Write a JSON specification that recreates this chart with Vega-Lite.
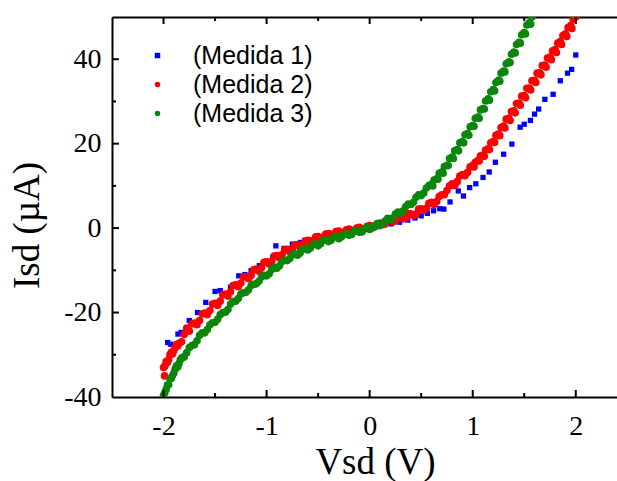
{
"$schema": "https://vega.github.io/schema/vega-lite/v6.json",
"width": 505, "height": 380,
"autosize": {"type": "none"},
"padding": {"left": 112, "top": 17, "right": 0, "bottom": 84},
"background": "white",
"config": {"view": {"stroke": null}, "axis": {"grid": false, "domainColor": "black", "domainWidth": 2, "tickColor": "black", "tickWidth": 2, "labelFont": "Liberation Serif", "labelFontSize": 28, "labelColor": "black", "titleFont": "Liberation Serif", "titleFontSize": 37, "titleFontWeight": "normal", "titleColor": "black"}},
"resolve": {"axis": {"x": "independent", "y": "independent"}},
"datasets": {
"xmajor": [{"t":-2},{"t":-1},{"t":0},{"t":1},{"t":2}],
"xminor": [{"t":-1.5},{"t":-0.5},{"t":0.5},{"t":1.5}],
"ymajor": [{"t":-20},{"t":0},{"t":20},{"t":40}],
"yminor": [{"t":-30},{"t":-10},{"t":10},{"t":30}],
"pts": [
{"s":1,"v":-1.96,"i":-27.1},{"s":1,"v":-1.93,"i":-27.5},{"s":1,"v":-1.86,"i":-25.1},{"s":1,"v":-1.83,"i":-24.7},{"s":1,"v":-1.75,"i":-21.9},{"s":1,"v":-1.67,"i":-20.0},{"s":1,"v":-1.59,"i":-17.6},{"s":1,"v":-1.5,"i":-15.0},{"s":1,"v":-1.45,"i":-14.8},{"s":1,"v":-1.35,"i":-14.0},{"s":1,"v":-1.27,"i":-11.3},{"s":1,"v":-1.21,"i":-11.0},{"s":1,"v":-1.15,"i":-10.1},{"s":1,"v":-1.07,"i":-8.9},{"s":1,"v":-0.99,"i":-8.0},{"s":1,"v":-0.94,"i":-6.9},{"s":1,"v":-0.91,"i":-4.2},{"s":1,"v":-0.83,"i":-4.8},{"s":1,"v":-0.75,"i":-3.8},{"s":1,"v":-0.67,"i":-3.4},{"s":1,"v":-0.59,"i":-2.8},{"s":1,"v":-0.51,"i":-1.8},{"s":1,"v":-0.43,"i":-1.5},{"s":1,"v":-0.35,"i":-1.2},{"s":1,"v":-0.27,"i":-0.9},{"s":1,"v":-0.19,"i":-0.5},{"s":1,"v":-0.11,"i":-0.3},{"s":1,"v":-0.03,"i":0.1},{"s":1,"v":0.05,"i":0.3},{"s":1,"v":0.13,"i":0.7},{"s":1,"v":0.21,"i":1.0},{"s":1,"v":0.29,"i":1.4},{"s":1,"v":0.37,"i":1.9},{"s":1,"v":0.44,"i":2.4},{"s":1,"v":0.5,"i":2.9},{"s":1,"v":0.56,"i":3.5},{"s":1,"v":0.62,"i":4.1},{"s":1,"v":0.68,"i":4.6},{"s":1,"v":0.72,"i":4.5},{"s":1,"v":0.78,"i":6.2},{"s":1,"v":0.86,"i":8.8},{"s":1,"v":0.91,"i":7.6},{"s":1,"v":0.97,"i":9.6},{"s":1,"v":1.03,"i":10.5},{"s":1,"v":1.1,"i":12.0},{"s":1,"v":1.16,"i":13.3},{"s":1,"v":1.22,"i":15.6},{"s":1,"v":1.3,"i":17.5},{"s":1,"v":1.38,"i":19.9},{"s":1,"v":1.46,"i":23.9},{"s":1,"v":1.5,"i":24.6},{"s":1,"v":1.56,"i":25.5},{"s":1,"v":1.6,"i":27.0},{"s":1,"v":1.64,"i":28.2},{"s":1,"v":1.7,"i":30.5},{"s":1,"v":1.78,"i":31.7},{"s":1,"v":1.85,"i":34.9},{"s":1,"v":1.92,"i":36.7},{"s":1,"v":1.96,"i":37.6},{"s":1,"v":2.0,"i":41.0},
{"s":2,"v":-2.0,"i":-33.0},{"s":2,"v":-1.99,"i":-35.0},{"s":2,"v":-1.9875,"i":-32.7},{"s":2,"v":-1.975,"i":-31.6},{"s":2,"v":-1.9625,"i":-31.8},{"s":2,"v":-1.95,"i":-31.2},{"s":2,"v":-1.9375,"i":-30.0},{"s":2,"v":-1.925,"i":-29.4},{"s":2,"v":-1.9125,"i":-29.8},{"s":2,"v":-1.9,"i":-29.0},{"s":2,"v":-1.8875,"i":-28.3},{"s":2,"v":-1.875,"i":-27.6},{"s":2,"v":-1.8625,"i":-27.9},{"s":2,"v":-1.85,"i":-27.3},{"s":2,"v":-1.825,"i":-26.9},{"s":2,"v":-1.8,"i":-25.2},{"s":2,"v":-1.775,"i":-23.7},{"s":2,"v":-1.75,"i":-24.4},{"s":2,"v":-1.725,"i":-22.7},{"s":2,"v":-1.7,"i":-22.5},{"s":2,"v":-1.675,"i":-22.9},{"s":2,"v":-1.65,"i":-21.9},{"s":2,"v":-1.625,"i":-20.3},{"s":2,"v":-1.6,"i":-20.1},{"s":2,"v":-1.575,"i":-20.5},{"s":2,"v":-1.55,"i":-19.5},{"s":2,"v":-1.525,"i":-18.0},{"s":2,"v":-1.5,"i":-17.8},{"s":2,"v":-1.475,"i":-18.3},{"s":2,"v":-1.45,"i":-17.3},{"s":2,"v":-1.425,"i":-15.8},{"s":2,"v":-1.4,"i":-15.6},{"s":2,"v":-1.375,"i":-16.1},{"s":2,"v":-1.35,"i":-15.1},{"s":2,"v":-1.325,"i":-13.6},{"s":2,"v":-1.3,"i":-13.4},{"s":2,"v":-1.275,"i":-13.9},{"s":2,"v":-1.25,"i":-13.0},{"s":2,"v":-1.225,"i":-11.6},{"s":2,"v":-1.2,"i":-11.5},{"s":2,"v":-1.175,"i":-12.0},{"s":2,"v":-1.15,"i":-11.2},{"s":2,"v":-1.125,"i":-9.9},{"s":2,"v":-1.1,"i":-9.7},{"s":2,"v":-1.075,"i":-10.2},{"s":2,"v":-1.05,"i":-9.4},{"s":2,"v":-1.025,"i":-8.1},{"s":2,"v":-1.0,"i":-8.0},{"s":2,"v":-0.975,"i":-8.5},{"s":2,"v":-0.95,"i":-7.8},{"s":2,"v":-0.925,"i":-6.6},{"s":2,"v":-0.9,"i":-6.5},{"s":2,"v":-0.875,"i":-7.1},{"s":2,"v":-0.85,"i":-6.3},{"s":2,"v":-0.825,"i":-5.2},{"s":2,"v":-0.8,"i":-5.0},{"s":2,"v":-0.775,"i":-5.6},{"s":2,"v":-0.75,"i":-5.0},{"s":2,"v":-0.725,"i":-4.0},{"s":2,"v":-0.7,"i":-3.9},{"s":2,"v":-0.675,"i":-4.5},{"s":2,"v":-0.65,"i":-4.0},{"s":2,"v":-0.625,"i":-3.0},{"s":2,"v":-0.6,"i":-2.9},{"s":2,"v":-0.575,"i":-3.5},{"s":2,"v":-0.55,"i":-3.0},{"s":2,"v":-0.525,"i":-2.1},{"s":2,"v":-0.5,"i":-2.0},{"s":2,"v":-0.475,"i":-2.6},{"s":2,"v":-0.45,"i":-2.2},{"s":2,"v":-0.425,"i":-1.4},{"s":2,"v":-0.4,"i":-1.3},{"s":2,"v":-0.375,"i":-1.9},{"s":2,"v":-0.35,"i":-1.5},{"s":2,"v":-0.325,"i":-0.8},{"s":2,"v":-0.3,"i":-0.7},{"s":2,"v":-0.275,"i":-1.3},{"s":2,"v":-0.25,"i":-1.0},{"s":2,"v":-0.225,"i":-0.4},{"s":2,"v":-0.2,"i":-0.2},{"s":2,"v":-0.175,"i":-0.8},{"s":2,"v":-0.15,"i":-0.5},{"s":2,"v":-0.125,"i":0.0},{"s":2,"v":-0.1,"i":0.2},{"s":2,"v":-0.075,"i":-0.3},{"s":2,"v":-0.05,"i":-0.1},{"s":2,"v":-0.025,"i":0.4},{"s":2,"v":0.0,"i":0.6},{"s":2,"v":0.025,"i":0.1},{"s":2,"v":0.05,"i":0.3},{"s":2,"v":0.075,"i":1.0},{"s":2,"v":0.1,"i":1.2},{"s":2,"v":0.125,"i":0.8},{"s":2,"v":0.15,"i":1.0},{"s":2,"v":0.175,"i":1.8},{"s":2,"v":0.2,"i":1.9},{"s":2,"v":0.225,"i":1.5},{"s":2,"v":0.25,"i":1.7},{"s":2,"v":0.275,"i":2.6},{"s":2,"v":0.3,"i":2.6},{"s":2,"v":0.325,"i":2.2},{"s":2,"v":0.35,"i":2.4},{"s":2,"v":0.375,"i":3.4},{"s":2,"v":0.4,"i":3.4},{"s":2,"v":0.425,"i":3.0},{"s":2,"v":0.45,"i":3.3},{"s":2,"v":0.475,"i":4.5},{"s":2,"v":0.5,"i":4.6},{"s":2,"v":0.525,"i":4.2},{"s":2,"v":0.55,"i":4.7},{"s":2,"v":0.575,"i":5.9},{"s":2,"v":0.6,"i":6.1},{"s":2,"v":0.625,"i":5.6},{"s":2,"v":0.65,"i":6.3},{"s":2,"v":0.675,"i":7.5},{"s":2,"v":0.7,"i":7.9},{"s":2,"v":0.725,"i":7.9},{"s":2,"v":0.75,"i":8.9},{"s":2,"v":0.775,"i":10.0},{"s":2,"v":0.8,"i":10.5},{"s":2,"v":0.825,"i":10.1},{"s":2,"v":0.85,"i":11.0},{"s":2,"v":0.875,"i":12.3},{"s":2,"v":0.9,"i":12.7},{"s":2,"v":0.925,"i":12.4},{"s":2,"v":0.95,"i":13.2},{"s":2,"v":0.975,"i":14.5},{"s":2,"v":1.0,"i":14.9},{"s":2,"v":1.0125,"i":14.5},{"s":2,"v":1.025,"i":15.6},{"s":2,"v":1.05,"i":16.0},{"s":2,"v":1.0625,"i":15.9},{"s":2,"v":1.075,"i":17.1},{"s":2,"v":1.1,"i":17.3},{"s":2,"v":1.1125,"i":17.0},{"s":2,"v":1.125,"i":18.5},{"s":2,"v":1.15,"i":18.8},{"s":2,"v":1.1625,"i":18.6},{"s":2,"v":1.175,"i":20.2},{"s":2,"v":1.2,"i":20.5},{"s":2,"v":1.2125,"i":20.3},{"s":2,"v":1.225,"i":22.0},{"s":2,"v":1.25,"i":22.3},{"s":2,"v":1.2625,"i":21.9},{"s":2,"v":1.275,"i":23.8},{"s":2,"v":1.3,"i":24.2},{"s":2,"v":1.3125,"i":23.7},{"s":2,"v":1.325,"i":25.8},{"s":2,"v":1.35,"i":26.0},{"s":2,"v":1.3625,"i":25.5},{"s":2,"v":1.375,"i":27.6},{"s":2,"v":1.4,"i":27.8},{"s":2,"v":1.4125,"i":27.3},{"s":2,"v":1.425,"i":29.5},{"s":2,"v":1.45,"i":29.6},{"s":2,"v":1.4625,"i":29.1},{"s":2,"v":1.475,"i":31.3},{"s":2,"v":1.5,"i":31.4},{"s":2,"v":1.5125,"i":30.9},{"s":2,"v":1.525,"i":33.1},{"s":2,"v":1.55,"i":33.2},{"s":2,"v":1.5625,"i":32.7},{"s":2,"v":1.575,"i":34.9},{"s":2,"v":1.6,"i":35.0},{"s":2,"v":1.6125,"i":34.5},{"s":2,"v":1.625,"i":36.7},{"s":2,"v":1.65,"i":36.8},{"s":2,"v":1.6625,"i":36.3},{"s":2,"v":1.675,"i":38.5},{"s":2,"v":1.7,"i":38.6},{"s":2,"v":1.7125,"i":38.1},{"s":2,"v":1.725,"i":40.3},{"s":2,"v":1.75,"i":40.5},{"s":2,"v":1.7625,"i":39.9},{"s":2,"v":1.775,"i":42.0},{"s":2,"v":1.8,"i":42.3},{"s":2,"v":1.8125,"i":41.6},{"s":2,"v":1.825,"i":43.8},{"s":2,"v":1.85,"i":44.2},{"s":2,"v":1.8625,"i":43.5},{"s":2,"v":1.875,"i":45.6},{"s":2,"v":1.9,"i":46.0},{"s":2,"v":1.9125,"i":45.4},{"s":2,"v":1.925,"i":47.5},{"s":2,"v":1.95,"i":48.0},{"s":2,"v":1.9625,"i":47.3},{"s":2,"v":1.975,"i":49.4},{"s":2,"v":2.0,"i":50.0},
{"s":3,"v":-2.0,"i":-39.6},{"s":3,"v":-1.9875,"i":-39.0},{"s":3,"v":-1.975,"i":-38.2},{"s":3,"v":-1.9625,"i":-37.2},{"s":3,"v":-1.95,"i":-37.1},{"s":3,"v":-1.9375,"i":-35.7},{"s":3,"v":-1.925,"i":-35.6},{"s":3,"v":-1.9125,"i":-34.9},{"s":3,"v":-1.9,"i":-34.3},{"s":3,"v":-1.8875,"i":-33.4},{"s":3,"v":-1.875,"i":-32.6},{"s":3,"v":-1.8625,"i":-32.9},{"s":3,"v":-1.85,"i":-32.1},{"s":3,"v":-1.8375,"i":-31.2},{"s":3,"v":-1.825,"i":-30.8},{"s":3,"v":-1.8125,"i":-30.6},{"s":3,"v":-1.8,"i":-30.5},{"s":3,"v":-1.775,"i":-29.5},{"s":3,"v":-1.75,"i":-28.3},{"s":3,"v":-1.725,"i":-27.8},{"s":3,"v":-1.7,"i":-27.6},{"s":3,"v":-1.675,"i":-26.7},{"s":3,"v":-1.65,"i":-25.4},{"s":3,"v":-1.625,"i":-24.8},{"s":3,"v":-1.6,"i":-24.8},{"s":3,"v":-1.575,"i":-24.0},{"s":3,"v":-1.55,"i":-22.9},{"s":3,"v":-1.525,"i":-22.4},{"s":3,"v":-1.5,"i":-22.3},{"s":3,"v":-1.475,"i":-21.6},{"s":3,"v":-1.45,"i":-20.5},{"s":3,"v":-1.425,"i":-20.0},{"s":3,"v":-1.4,"i":-19.9},{"s":3,"v":-1.375,"i":-19.3},{"s":3,"v":-1.35,"i":-18.0},{"s":3,"v":-1.325,"i":-17.4},{"s":3,"v":-1.3,"i":-17.3},{"s":3,"v":-1.275,"i":-16.7},{"s":3,"v":-1.25,"i":-15.6},{"s":3,"v":-1.225,"i":-15.3},{"s":3,"v":-1.2,"i":-15.2},{"s":3,"v":-1.175,"i":-14.6},{"s":3,"v":-1.15,"i":-13.6},{"s":3,"v":-1.125,"i":-13.3},{"s":3,"v":-1.1,"i":-13.2},{"s":3,"v":-1.075,"i":-12.6},{"s":3,"v":-1.05,"i":-11.6},{"s":3,"v":-1.025,"i":-11.2},{"s":3,"v":-1.0,"i":-11.3},{"s":3,"v":-0.975,"i":-10.8},{"s":3,"v":-0.95,"i":-9.8},{"s":3,"v":-0.925,"i":-9.3},{"s":3,"v":-0.9,"i":-9.5},{"s":3,"v":-0.875,"i":-8.9},{"s":3,"v":-0.85,"i":-7.9},{"s":3,"v":-0.825,"i":-7.6},{"s":3,"v":-0.8,"i":-7.7},{"s":3,"v":-0.775,"i":-7.2},{"s":3,"v":-0.75,"i":-6.3},{"s":3,"v":-0.725,"i":-6.1},{"s":3,"v":-0.7,"i":-6.4},{"s":3,"v":-0.675,"i":-5.9},{"s":3,"v":-0.65,"i":-5.0},{"s":3,"v":-0.625,"i":-4.8},{"s":3,"v":-0.6,"i":-5.2},{"s":3,"v":-0.575,"i":-4.7},{"s":3,"v":-0.55,"i":-3.9},{"s":3,"v":-0.525,"i":-3.7},{"s":3,"v":-0.5,"i":-4.2},{"s":3,"v":-0.475,"i":-3.7},{"s":3,"v":-0.45,"i":-2.9},{"s":3,"v":-0.425,"i":-2.8},{"s":3,"v":-0.4,"i":-3.2},{"s":3,"v":-0.375,"i":-2.9},{"s":3,"v":-0.35,"i":-2.1},{"s":3,"v":-0.325,"i":-2.0},{"s":3,"v":-0.3,"i":-2.5},{"s":3,"v":-0.275,"i":-2.1},{"s":3,"v":-0.25,"i":-1.5},{"s":3,"v":-0.225,"i":-1.3},{"s":3,"v":-0.2,"i":-1.7},{"s":3,"v":-0.175,"i":-1.5},{"s":3,"v":-0.15,"i":-0.8},{"s":3,"v":-0.125,"i":-0.6},{"s":3,"v":-0.1,"i":-1.0},{"s":3,"v":-0.075,"i":-0.9},{"s":3,"v":-0.05,"i":-0.2},{"s":3,"v":-0.025,"i":0.2},{"s":3,"v":0.0,"i":-0.3},{"s":3,"v":0.025,"i":0.0},{"s":3,"v":0.05,"i":0.6},{"s":3,"v":0.075,"i":1.1},{"s":3,"v":0.1,"i":0.6},{"s":3,"v":0.125,"i":1.0},{"s":3,"v":0.15,"i":1.7},{"s":3,"v":0.175,"i":2.3},{"s":3,"v":0.2,"i":2.0},{"s":3,"v":0.225,"i":2.4},{"s":3,"v":0.25,"i":3.3},{"s":3,"v":0.275,"i":3.8},{"s":3,"v":0.3,"i":3.6},{"s":3,"v":0.325,"i":4.1},{"s":3,"v":0.35,"i":5.1},{"s":3,"v":0.375,"i":5.7},{"s":3,"v":0.4,"i":5.6},{"s":3,"v":0.425,"i":6.1},{"s":3,"v":0.45,"i":7.3},{"s":3,"v":0.475,"i":7.9},{"s":3,"v":0.5,"i":7.7},{"s":3,"v":0.525,"i":8.3},{"s":3,"v":0.55,"i":9.5},{"s":3,"v":0.575,"i":10.1},{"s":3,"v":0.6,"i":10.4},{"s":3,"v":0.6125,"i":10.0},{"s":3,"v":0.625,"i":11.4},{"s":3,"v":0.65,"i":11.7},{"s":3,"v":0.6625,"i":11.6},{"s":3,"v":0.675,"i":13.0},{"s":3,"v":0.7,"i":13.3},{"s":3,"v":0.7125,"i":13.0},{"s":3,"v":0.725,"i":14.6},{"s":3,"v":0.75,"i":14.9},{"s":3,"v":0.7625,"i":14.8},{"s":3,"v":0.775,"i":16.5},{"s":3,"v":0.8,"i":16.8},{"s":3,"v":0.8125,"i":16.5},{"s":3,"v":0.825,"i":18.3},{"s":3,"v":0.85,"i":18.6},{"s":3,"v":0.8625,"i":18.3},{"s":3,"v":0.875,"i":20.2},{"s":3,"v":0.9,"i":20.5},{"s":3,"v":0.9125,"i":20.2},{"s":3,"v":0.925,"i":22.1},{"s":3,"v":0.95,"i":22.4},{"s":3,"v":0.9625,"i":22.0},{"s":3,"v":0.975,"i":24.0},{"s":3,"v":1.0,"i":24.3},{"s":3,"v":1.0125,"i":24.1},{"s":3,"v":1.025,"i":26.0},{"s":3,"v":1.05,"i":26.3},{"s":3,"v":1.0625,"i":26.0},{"s":3,"v":1.075,"i":28.0},{"s":3,"v":1.1,"i":28.3},{"s":3,"v":1.1125,"i":28.2},{"s":3,"v":1.125,"i":30.1},{"s":3,"v":1.15,"i":30.6},{"s":3,"v":1.1625,"i":30.3},{"s":3,"v":1.175,"i":32.3},{"s":3,"v":1.2,"i":32.8},{"s":3,"v":1.2125,"i":32.5},{"s":3,"v":1.225,"i":34.5},{"s":3,"v":1.25,"i":35.0},{"s":3,"v":1.2625,"i":34.8},{"s":3,"v":1.275,"i":36.7},{"s":3,"v":1.3,"i":37.2},{"s":3,"v":1.3125,"i":37.0},{"s":3,"v":1.325,"i":38.9},{"s":3,"v":1.35,"i":39.4},{"s":3,"v":1.3625,"i":39.2},{"s":3,"v":1.375,"i":41.2},{"s":3,"v":1.4,"i":41.7},{"s":3,"v":1.4125,"i":41.5},{"s":3,"v":1.425,"i":43.5},{"s":3,"v":1.45,"i":44.0},{"s":3,"v":1.4625,"i":43.8},{"s":3,"v":1.475,"i":45.8},{"s":3,"v":1.5,"i":46.3},{"s":3,"v":1.5125,"i":46.0},{"s":3,"v":1.525,"i":48.1},{"s":3,"v":1.55,"i":48.6},{"s":3,"v":1.5625,"i":48.3},{"s":3,"v":1.575,"i":50.0}
]},
"layer": [
{"data": {"name": "pts"}, "transform": [{"filter": "datum.s == 1"}],
 "mark": {"type": "point", "filled": true, "size": 28, "opacity": 1, "strokeWidth": 0, "clip": true},
 "encoding": {
  "x": {"field": "v", "type": "quantitative", "scale": {"domain": [-2.5, 2.4], "nice": false, "zero": false},
        "axis": {"orient": "bottom", "title": "Vsd (V)", "values": [-2, -1, 0, 1, 2], "ticks": false,
                 "labelExpr": "'' + datum.value", "labelPadding": 15, "labelFlush": false, "labelOverlap": false,
                 "titleX": 263, "titleY": 76, "titleBaseline": "alphabetic", "titleAlign": "center"}},
  "y": {"field": "i", "type": "quantitative", "scale": {"domain": [-40, 50], "nice": false, "zero": false},
        "axis": {"orient": "left", "title": "Isd (µA)", "values": [-40, -20, 0, 20, 40], "ticks": false,
                 "labelExpr": "'' + datum.value", "labelPadding": 11, "labelFlush": false, "labelOverlap": false,
                 "titleX": -74, "titleY": 208, "titleAngle": -90, "titleBaseline": "alphabetic", "titleAlign": "center"}},
  "color": {"field": "s", "type": "nominal", "scale": {"domain": [1, 2, 3], "range": ["#0000ff", "#ff0000", "#0a870a"]},
            "legend": {"orient": "none", "legendX": 33, "legendY": 26, "title": null, "padding": 0, "labelExpr": "'(Medida ' + datum.label + ')'", "labelFont": "Liberation Sans", "labelFontSize": 25, "labelColor": "black", "symbolSize": 30, "labelOffset": 23, "rowPadding": 3, "symbolStrokeWidth": 0}},
  "shape": {"field": "s", "type": "nominal", "scale": {"domain": [1, 2, 3], "range": ["square", "circle", "circle"]}}
 }},
{"data": {"name": "pts"}, "transform": [{"filter": "datum.s != 1"}],
 "mark": {"type": "point", "filled": true, "size": 58, "opacity": 1, "strokeWidth": 0, "clip": true},
 "encoding": {
  "x": {"field": "v", "type": "quantitative", "axis": null},
  "y": {"field": "i", "type": "quantitative", "axis": null},
  "color": {"field": "s", "type": "nominal", "legend": null},
  "shape": {"field": "s", "type": "nominal", "legend": null}
 }},
{"data": {"name": "xmajor"},
 "mark": {"type": "tick", "orient": "vertical", "size": 14, "thickness": 2, "color": "black", "opacity": 1, "clip": true},
 "encoding": {"x": {"field": "t", "type": "quantitative", "axis": null}, "y": {"datum": -40, "type": "quantitative", "axis": null}}},
{"data": {"name": "xmajor"},
 "mark": {"type": "tick", "orient": "vertical", "size": 14, "thickness": 2, "color": "black", "opacity": 1, "clip": true},
 "encoding": {"x": {"field": "t", "type": "quantitative", "axis": null}, "y": {"datum": 50, "type": "quantitative", "axis": null}}},
{"data": {"name": "xminor"},
 "mark": {"type": "tick", "orient": "vertical", "size": 8, "thickness": 2, "color": "black", "opacity": 1, "clip": true},
 "encoding": {"x": {"field": "t", "type": "quantitative", "axis": null}, "y": {"datum": -40, "type": "quantitative", "axis": null}}},
{"data": {"name": "xminor"},
 "mark": {"type": "tick", "orient": "vertical", "size": 8, "thickness": 2, "color": "black", "opacity": 1, "clip": true},
 "encoding": {"x": {"field": "t", "type": "quantitative", "axis": null}, "y": {"datum": 50, "type": "quantitative", "axis": null}}},
{"data": {"name": "ymajor"},
 "mark": {"type": "tick", "orient": "horizontal", "size": 14, "thickness": 2, "color": "black", "opacity": 1, "clip": true},
 "encoding": {"y": {"field": "t", "type": "quantitative", "axis": null}, "x": {"datum": -2.5, "type": "quantitative", "axis": null}}},
{"data": {"name": "yminor"},
 "mark": {"type": "tick", "orient": "horizontal", "size": 8, "thickness": 2, "color": "black", "opacity": 1, "clip": true},
 "encoding": {"y": {"field": "t", "type": "quantitative", "axis": null}, "x": {"datum": -2.5, "type": "quantitative", "axis": null}}},
{"data": {"name": "xmajor"},
 "mark": {"type": "point", "opacity": 0},
 "encoding": {
  "x": {"field": "t", "type": "quantitative",
        "axis": {"orient": "top", "title": null, "labels": false, "ticks": false, "domain": true}}
 }}
]
}
